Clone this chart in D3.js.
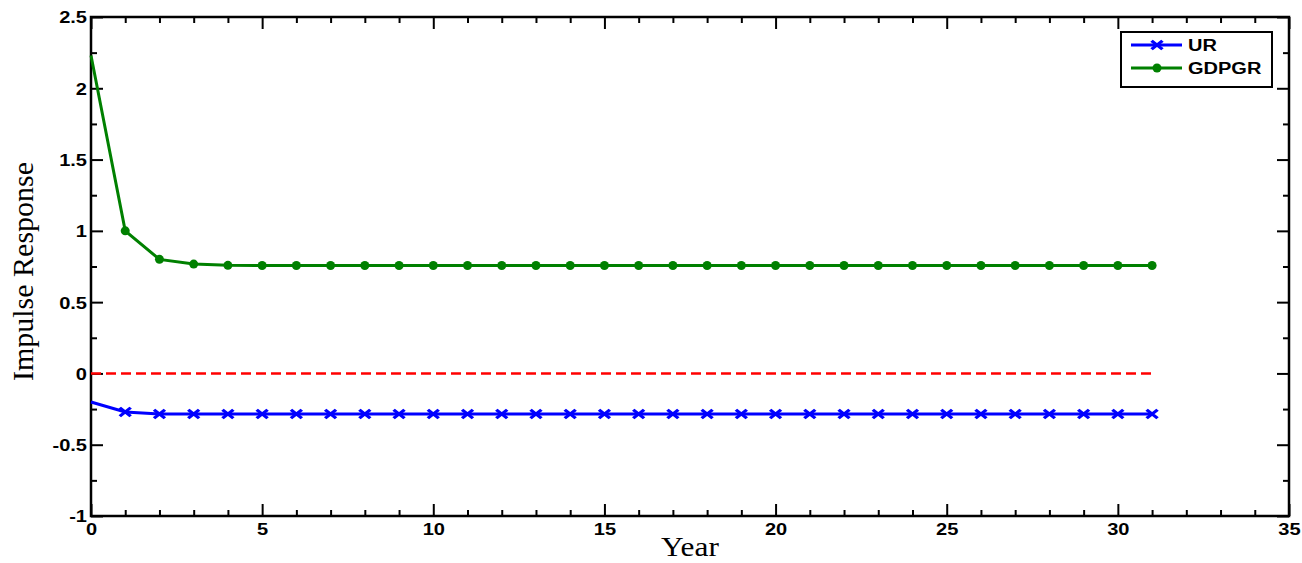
<!DOCTYPE html>
<html>
<head>
<meta charset="utf-8">
<script src="https://cdn.jsdelivr.net/npm/d3@7"></script>
<style>
body { margin: 0; background: #fff; }
svg { display: block; }
</style>
</head>
<body>
<svg width="1302" height="563"></svg>
<script>
var years = d3.range(0, 32);
var ur = [-0.20, -0.27, -0.285, -0.285, -0.285, -0.285, -0.285, -0.285, -0.285, -0.285,
    -0.285, -0.285, -0.285, -0.285, -0.285, -0.285, -0.285, -0.285, -0.285, -0.285,
    -0.285, -0.285, -0.285, -0.285, -0.285, -0.285, -0.285, -0.285, -0.285, -0.285,
    -0.285, -0.285];
var gdpgr = [2.23, 1.0, 0.80, 0.767, 0.758, 0.757, 0.757, 0.757, 0.757, 0.757,
    0.757, 0.757, 0.757, 0.757, 0.757, 0.757, 0.757, 0.757, 0.757, 0.757,
    0.757, 0.757, 0.757, 0.757, 0.757, 0.757, 0.757, 0.757, 0.757, 0.757,
    0.757, 0.757];
var xTicks = [0, 5, 10, 15, 20, 25, 30, 35];
var yTicks = [-1, -0.5, 0, 0.5, 1, 1.5, 2, 2.5];

var svg = d3.select("svg"),
    margin = {top: 17, right: 13, bottom: 47, left: 91},
    width = +svg.attr("width") - margin.left - margin.right,
    height = +svg.attr("height") - margin.top - margin.bottom,
    g = svg.append("g").attr("transform", "translate(" + margin.left + "," + margin.top + ")");

var x = d3.scaleLinear().domain([0, 35]).range([0, width]);
var y = d3.scaleLinear().domain([-1, 2.5]).range([height, 0]);

var xMinor = d3.range(0, 36).filter(function (d) { return d % 5 !== 0; });
var yMinor = d3.range(-1, 2.51, 0.25).filter(function (d) { return Math.abs(d * 2 - Math.round(d * 2)) > 0.01; });

function fmt(d) { return String(d); }
var sx = 1.18; // labels in the picture are a bit wide
var tickFont = "bold 17px 'Liberation Sans', Arial, sans-serif";

// ticks point inward, on all four sides
var xAx = g.append("g").attr("transform", "translate(0," + height + ")")
    .call(d3.axisBottom(x).tickValues(xTicks).tickSize(-12).tickPadding(13).tickFormat(fmt));
g.append("g").attr("transform", "translate(0," + height + ")")
    .call(d3.axisBottom(x).tickValues(xMinor).tickSize(-6).tickFormat(""));
g.append("g")
    .call(d3.axisTop(x).tickValues(xTicks).tickSize(-12).tickFormat(""));
g.append("g")
    .call(d3.axisTop(x).tickValues(xMinor).tickSize(-6).tickFormat(""));
var yAx = g.append("g")
    .call(d3.axisLeft(y).tickValues(yTicks).tickSize(-12).tickPadding(4).tickFormat(fmt));
g.append("g")
    .call(d3.axisLeft(y).tickValues(yMinor).tickSize(-6).tickFormat(""));
g.append("g").attr("transform", "translate(" + width + ",0)")
    .call(d3.axisRight(y).tickValues(yTicks).tickSize(-12).tickFormat(""));
g.append("g").attr("transform", "translate(" + width + ",0)")
    .call(d3.axisRight(y).tickValues(yMinor).tickSize(-6).tickFormat(""));

g.selectAll(".domain").remove();
g.selectAll(".tick line").attr("stroke", "#000").attr("stroke-width", 2);
xAx.selectAll("text").attr("dy", "0.35em").attr("transform", "scale(" + sx + ",1)")
    .style("font", tickFont).attr("fill", "#000");
yAx.selectAll("text").attr("dy", "0.35em")
    .attr("x", -4 / sx).attr("transform", "scale(" + sx + ",1)")
    .style("font", tickFont).attr("fill", "#000");

g.append("rect")
    .attr("width", width).attr("height", height)
    .attr("fill", "none").attr("stroke", "#000").attr("stroke-width", 2.5);

// zero line
g.append("line")
    .attr("x1", x(0)).attr("x2", x(31))
    .attr("y1", y(0)).attr("y2", y(0))
    .attr("stroke", "#ff0000").attr("stroke-width", 2.5)
    .attr("stroke-dasharray", "10,5");

var line = d3.line()
    .x(function (d, i) { return x(years[i]); })
    .y(function (d) { return y(d); });

g.append("path").datum(gdpgr)
    .attr("d", line).attr("fill", "none")
    .attr("stroke", "#008000").attr("stroke-width", 3);
g.append("path").datum(ur)
    .attr("d", line).attr("fill", "none")
    .attr("stroke", "#0000ff").attr("stroke-width", 3);

g.selectAll(".gdot").data(gdpgr.slice(1))
    .enter().append("circle")
    .attr("cx", function (d, i) { return x(years[i + 1]); })
    .attr("cy", function (d) { return y(d); })
    .attr("r", 4.5).attr("fill", "#008000");

var cross = d3.symbol().type(d3.symbolX).size(60);
g.selectAll(".ux").data(ur.slice(1))
    .enter().append("path")
    .attr("transform", function (d, i) { return "translate(" + x(years[i + 1]) + "," + y(d) + ") scale(1.15,0.9)"; })
    .attr("d", cross).attr("fill", "none")
    .attr("stroke", "#0000ff").attr("stroke-width", 3);

// legend
var lg = svg.append("g").attr("transform", "translate(1121,32)");
lg.append("rect").attr("width", 151).attr("height", 55)
    .attr("fill", "#fff").attr("stroke", "#000").attr("stroke-width", 2);
var items = [{name: "UR", color: "#0000ff"}, {name: "GDPGR", color: "#008000"}];
items.forEach(function (it, i) {
    var yy = 13 + i * 23;
    lg.append("line").attr("x1", 10).attr("x2", 61).attr("y1", yy).attr("y2", yy)
        .attr("stroke", it.color).attr("stroke-width", 3);
    if (i === 0) {
        lg.append("path").attr("transform", "translate(36," + yy + ") scale(1.15,0.9)")
            .attr("d", cross).attr("fill", "none").attr("stroke", it.color).attr("stroke-width", 3);
    } else {
        lg.append("circle").attr("cx", 36).attr("cy", yy).attr("r", 4.5).attr("fill", it.color);
    }
    lg.append("text").attr("transform", "translate(67," + yy + ") scale(1.25,1)")
        .attr("dy", "0.36em")
        .style("font", "bold 16px 'Liberation Sans', Arial, sans-serif")
        .text(it.name);
});

svg.append("text")
    .attr("transform", "translate(33," + (margin.top + height / 2 + 5) + ") rotate(-90)")
    .attr("text-anchor", "middle")
    .style("font", "30px 'Liberation Serif', 'Times New Roman', serif")
    .text("Impulse Response");

svg.append("text")
    .attr("transform", "translate(" + (margin.left + x(17.5)) + ",556) scale(1.12,1)")
    .attr("text-anchor", "middle")
    .style("font", "28px 'Liberation Serif', 'Times New Roman', serif")
    .text("Year");
</script>
</body>
</html>
